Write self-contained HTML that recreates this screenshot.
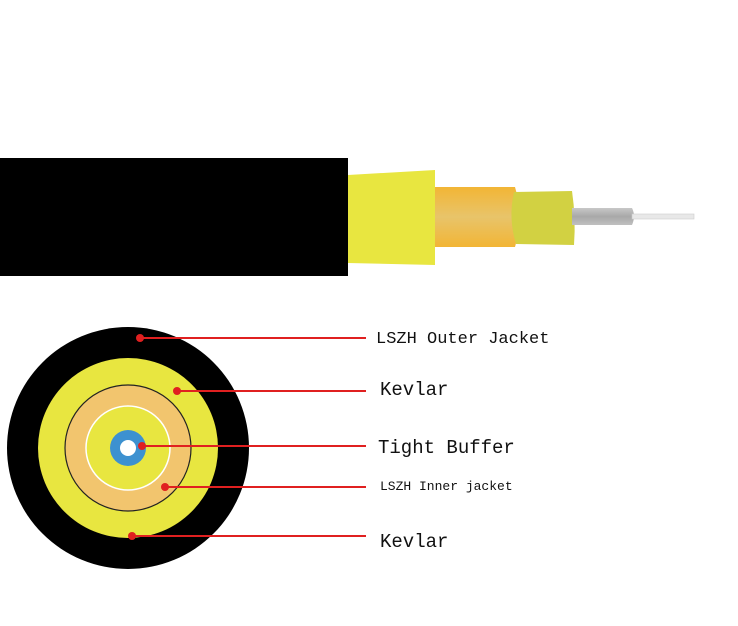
<!DOCTYPE html>
<html><head><style>body{margin:0;background:#fff}svg{display:block}</style></head><body>
<svg width="738" height="626" viewBox="0 0 738 626" xmlns="http://www.w3.org/2000/svg">
<defs>
<linearGradient id="og" x1="0" y1="0" x2="0" y2="1"><stop offset="0" stop-color="#f2b535"/><stop offset="0.5" stop-color="#e8c46a"/><stop offset="1" stop-color="#f2b535"/></linearGradient>
<linearGradient id="gg" x1="0" y1="0" x2="0" y2="1"><stop offset="0" stop-color="#c8c8c8"/><stop offset="0.5" stop-color="#a8a8a8"/><stop offset="1" stop-color="#c0c0c0"/></linearGradient>
</defs>
<rect x="0" y="158" width="348" height="118" fill="#000"/>
<polygon points="348,175 435,170 435,265 348,263" fill="#e8e640"/>
<path d="M435,187 L515,187 Q524,217 515,247 L435,247 Z" fill="url(#og)"/>
<path d="M514,192 L572,191 Q576,218 574,245 L516,244 Q508,218 514,192 Z" fill="#d2d142"/>
<path d="M572,208 L632,208 Q636,216 632,225 L572,225 Z" fill="url(#gg)"/>
<rect x="632" y="214" width="62" height="5" fill="#e8e8e8" stroke="#ccc" stroke-width="0.6"/>
<circle cx="128" cy="448" r="121" fill="#000"/>
<circle cx="128" cy="448" r="90" fill="#e8e640"/>
<circle cx="128" cy="448" r="63" fill="#f2c56e" stroke="#222" stroke-width="1.2"/>
<circle cx="128" cy="448" r="42" fill="#e8e640" stroke="#fff" stroke-width="1.5"/>
<circle cx="128" cy="448" r="18" fill="#3d91d0"/>
<circle cx="128" cy="448" r="8" fill="#fff"/>
<g stroke="#e02020" stroke-width="2"><line x1="140" y1="338" x2="366" y2="338"/><line x1="177" y1="391" x2="366" y2="391"/><line x1="142" y1="446" x2="366" y2="446"/><line x1="165" y1="487" x2="366" y2="487"/><line x1="132" y1="536" x2="366" y2="536"/></g>
<g fill="#e02020"><circle cx="140" cy="338" r="4"/><circle cx="177" cy="391" r="4"/><circle cx="142" cy="446" r="4"/><circle cx="165" cy="487" r="4"/><circle cx="132" cy="536" r="4"/></g>
<g font-family="Liberation Mono, monospace" fill="#111">
<text x="376" y="343" font-size="17">LSZH Outer Jacket</text>
<text x="380" y="395" font-size="19">Kevlar</text>
<text x="378" y="453" font-size="19">Tight Buffer</text>
<text x="380" y="490" font-size="13">LSZH Inner jacket</text>
<text x="380" y="547" font-size="19">Kevlar</text>
</g>
</svg>
</body></html>
